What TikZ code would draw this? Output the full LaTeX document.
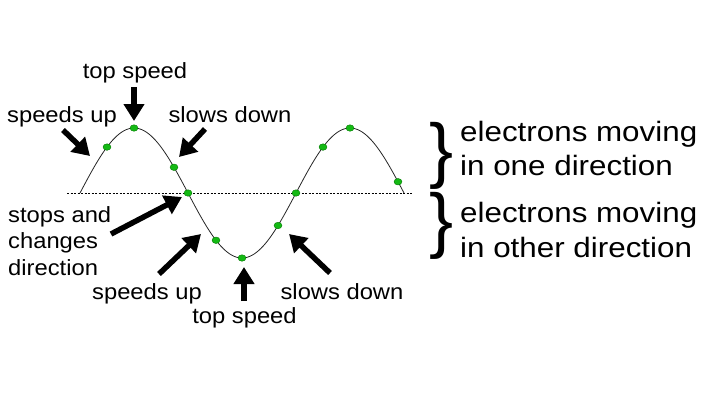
\documentclass[tikz,border=0pt]{standalone}
\usepackage{fontspec}
\setmainfont{Liberation Sans}
\newfontfamily\labfont[FakeStretch=1.08]{Liberation Sans}
\newfontfamily\bigfont[FakeStretch=1.12]{Liberation Sans}
\usetikzlibrary{arrows.meta,shapes.geometric}
\definecolor{dotgreen}{RGB}{20,185,20}
\definecolor{dotedge}{RGB}{0,120,0}
\begin{document}
\begin{tikzpicture}[x=1pt,y=-1pt,
  lab/.style={font=\labfont\fontsize{22}{26}\selectfont, inner sep=0pt, anchor=base},
  big/.style={font=\bigfont\fontsize{28}{34}\selectfont, inner sep=0pt, anchor=base west},
  brc/.style={font=\fontsize{72}{72}\selectfont, inner sep=0pt},
  bigarrow/.style={line width=5.5pt, -{Triangle[width=20pt,length=17pt]}},
  dot/.style={ellipse, minimum width=8pt, minimum height=6.5pt, inner sep=0pt, fill=dotgreen, draw=dotedge, line width=0.4pt},
  wave/.style={line width=0.8pt, black!85}]
\useasboundingbox (0,0) rectangle (720,405);
% axis
\coordinate (axL) at (67,193);
\coordinate (axR) at (413,193);
\draw[line width=0.7pt, dash pattern=on 2pt off 1.5pt] (axL) -- (axR);
% wave
\draw[wave] plot[domain=80:404, samples=200] (\x, {193-65*sin((\x-80)/216*360)});
% dots
\foreach \n/\xx in {d1/107, d2/134, d3/174, d4/188, d5/216, d6/242, d7/278, d8/296, d9/323, d10/350, d11/398}{
  \node[dot] (\n) at (\xx, {193-65*sin((\xx-80)/216*360)}) {};
}
% labels
\node[lab] (tsT) at (135,78) {top speed};
\node[lab] (suT) at (62,122) {speeds up};
\node[lab] (sdT) at (230,122) {slows down};
\node[lab, anchor=base west] (st1) at (8,222) {stops and};
\node[lab, anchor=base west] (st2) at (8,248) {changes};
\node[lab, anchor=base west] (st3) at (8,275) {direction};
\node[lab] (suB) at (147,299) {speeds up};
\node[lab] (tsB) at (244.5,323) {top speed};
\node[lab] (sdB) at (342,299) {slows down};
% arrows
\coordinate (a1s) at (134,87);  \coordinate (a1e) at (134,121);
\coordinate (a2s) at (63,130);  \coordinate (a2e) at (90,156);
\coordinate (a3s) at (205,129); \coordinate (a3e) at (179,157);
\coordinate (a4s) at (111,234); \coordinate (a4e) at (182,197);
\coordinate (a5s) at (159,274); \coordinate (a5e) at (201,234);
\coordinate (a6s) at (244,301); \coordinate (a6e) at (244,267);
\coordinate (a7s) at (330,273); \coordinate (a7e) at (289,234);
\foreach \a in {1,...,7}{\draw[bigarrow] (a\a s) -- (a\a e);}
% braces
\node[brc] (b1) at (442,156) {\}};
\node[brc] (b2) at (442,226) {\}};
% right text
\node[big] (r1) at (460,141) {electrons moving};
\node[big] (r2) at (460,175) {in one direction};
\node[big] (r3) at (460,222) {electrons moving};
\node[big] (r4) at (460,257) {in other direction};
\end{tikzpicture}
\end{document}
